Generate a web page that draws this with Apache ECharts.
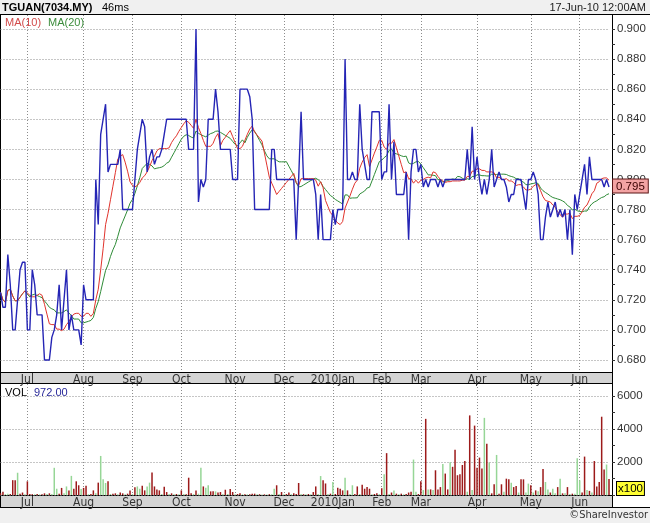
<!DOCTYPE html>
<html><head><meta charset="utf-8">
<script src="https://cdn.jsdelivr.net/npm/echarts@6/dist/echarts.min.js"></script>
<style>html,body{margin:0;padding:0;background:#fff}#c{width:650px;height:523px}</style>
</head><body><div id="c"></div>
<script>
// ---------- DATA ----------
const startDate = '2009-06-16';
const endDate = '2010-06-17';
const holidays = ['2009-08-31','2009-09-21','2009-09-22','2009-11-27','2009-12-18','2009-12-24','2009-12-25',
  '2010-01-01','2010-02-01','2010-02-15','2010-02-16','2010-02-26','2010-05-28'];
const monthNames = ['Jan','Feb','Mar','Apr','May','Jun','Jul','Aug','Sep','Oct','Nov','Dec'];

const closePrice = [
0.725,0.715,0.715,0.750,0.730,0.700,0.700,0.720,0.740,0.745,
0.745,0.700,0.700,0.740,0.730,0.710,0.710,0.710,0.680,0.680,
0.680,0.695,0.700,0.710,0.730,0.700,0.720,0.740,0.700,0.710,
0.700,0.700,0.700,0.690,0.730,0.720,0.720,0.720,0.720,0.800,
0.770,0.830,0.840,0.850,0.805,0.810,0.810,0.810,0.810,0.820,
0.780,0.780,0.780,0.780,0.780,0.800,0.820,0.830,0.840,0.835,
0.805,0.815,0.820,0.810,0.815,0.815,0.820,0.830,0.840,0.840,
0.840,0.840,0.840,0.840,0.840,0.840,0.840,0.820,0.820,0.820,
0.900,0.785,0.800,0.795,0.800,0.840,0.840,0.840,0.860,0.845,
0.820,0.820,0.820,0.820,0.820,0.800,0.800,0.800,0.860,0.860,
0.860,0.860,0.855,0.840,0.780,0.780,0.780,0.780,0.780,0.780,
0.780,0.820,0.820,0.800,0.800,0.800,0.800,0.800,0.800,0.800,
0.800,0.760,0.800,0.845,0.800,0.800,0.800,0.800,0.800,0.790,
0.760,0.790,0.760,0.760,0.760,0.760,0.780,0.770,0.780,0.780,
0.780,0.880,0.800,0.800,0.805,0.800,0.800,0.850,0.820,0.810,
0.800,0.800,0.845,0.845,0.845,0.845,0.800,0.805,0.805,0.850,
0.800,0.825,0.790,0.790,0.790,0.790,0.805,0.760,0.805,0.820,
0.820,0.805,0.810,0.795,0.800,0.795,0.800,0.800,0.800,0.795,
0.800,0.795,0.800,0.800,0.800,0.800,0.800,0.800,0.800,0.800,
0.800,0.820,0.800,0.835,0.800,0.815,0.800,0.790,0.800,0.790,
0.800,0.820,0.795,0.800,0.805,0.800,0.800,0.795,0.785,0.790,
0.790,0.800,0.800,0.800,0.790,0.780,0.800,0.800,0.805,0.800,
0.790,0.760,0.760,0.775,0.785,0.775,0.780,0.785,0.775,0.780,
0.775,0.780,0.760,0.780,0.750,0.790,0.780,0.790,0.800,0.810,
0.790,0.815,0.800,0.800,0.800,0.800,0.800,0.795,0.800,0.795
];

const volume = [
100,200,50,80,60,900,900,1350,80,150,
50,830,60,50,40,60,40,50,100,60,
100,60,1650,380,80,430,100,520,280,1160,
380,830,590,360,430,560,50,60,280,100,
750,2370,950,730,830,60,80,100,50,150,
100,50,80,280,60,470,520,380,560,280,
520,750,1360,520,330,280,60,500,180,60,
100,40,60,50,280,60,50,1050,100,60,
280,80,1650,520,440,590,220,220,220,150,
180,60,320,60,360,180,50,60,100,40,
50,40,50,80,80,40,50,30,40,30,
50,40,380,590,60,180,50,60,150,50,
100,60,730,60,50,40,60,50,180,520,
60,1150,900,700,60,80,790,60,440,380,
280,1040,280,60,590,60,520,60,620,380,
480,380,50,60,100,50,410,1260,2540,60,
150,280,80,50,80,40,60,150,200,2150,
200,60,830,300,4620,340,340,300,1500,340,
480,1880,1300,340,1980,1710,2740,1200,1260,1820,
2060,200,4830,300,4210,1650,2270,1610,4680,3110,
1980,100,650,2430,80,650,200,990,950,750,
480,550,150,950,950,150,690,590,150,280,
220,480,1570,790,340,150,380,100,480,990,
100,100,480,60,80,80,2230,890,150,2330,
300,250,150,2060,520,790,4750,1550,1850,972
];
// r = down-day bar, g = up-day bar
const volumeSide =
 'rrggrrrgrr' + 'grrrgrgrrg' + 'rgggrrggrg' + 'rrrgrrgrrg' + 'rgggrgrrgr' +
 'rgrrgrggrr' + 'ggrrrrgrrg' + 'rgrgrgrrrg' + 'rggrggrrgr' + 'rgrgrrgrrg' +
 'rgrrrgrgrg' + 'rggrgrgrrg' + 'rrrgrgrgrr' + 'ggrrgrgrrr' + 'rgrggrrgrr' +
 'rrgrrgrgrg' + 'rgrgrgrrrg' + 'grrgrgrgrr' + 'rgrrgrrrrr' + 'rgrgrrrrgr' +
 'grrgrrgrrg' + 'rrgrrggrgr' + 'grrggrggrg' + 'rgrgrgggrr' + 'grgrrrrrgr';

const priceTicks = [0.68,0.70,0.72,0.74,0.76,0.78,0.80,0.82,0.84,0.86,0.88,0.90];
const priceMinorTicks = [0.68,0.69,0.70,0.71,0.72,0.73,0.74,0.75,0.76,0.77,0.78,0.79,0.80,0.81,0.82,0.83,0.84,0.85,0.86,0.87,0.88,0.89,0.90];
const volumeTicks = [0,2000,4000,6000];
const volumeMinorTicks = [0,1000,2000,3000,4000,5000,6000];

// ---------- derived ----------
const dates = [];
(function(){
  const hol = new Set(holidays);
  let d = new Date(startDate + 'T00:00:00Z');
  const end = new Date(endDate + 'T00:00:00Z');
  while (d <= end) {
    const wd = d.getUTCDay();
    const s = d.toISOString().slice(0,10);
    if (wd !== 0 && wd !== 6 && !hol.has(s)) dates.push(s);
    d = new Date(d.getTime() + 86400000);
  }
})();
function movingAvg(arr, n) {
  return arr.map((v, i) => {
    const s = Math.max(0, i - n + 1);
    let sum = 0;
    for (let k = s; k <= i; k++) sum += arr[k];
    return +(sum / (i - s + 1)).toFixed(4);
  });
}
const ma10 = movingAvg(closePrice, 10);
const ma20 = movingAvg(closePrice, 20);
const lastClose = closePrice[closePrice.length - 1];
const lastVol = volume[volume.length - 1];
const isMonthStart = (idx) => idx > 0 && dates[idx] && dates[idx].slice(0,7) !== dates[idx-1].slice(0,7);
const monthLabel = (val) => { const m = +val.slice(5,7); return (m === 1 ? val.slice(0,4) : '') + monthNames[m-1]; };

const FONT = '"Liberation Sans", Arial, sans-serif';
const NARROW = '"Liberation Sans Narrow", "Arial Narrow", "DejaVu Sans Condensed", sans-serif';
const dotted = { color: '#8c8c8c', width: 1, type: [1, 2] };

function xAxisFor(grid) {
  return {
    type: 'category', gridIndex: grid, data: dates, boundaryGap: false,
    axisLine: { show: false }, axisTick: { show: false },
    axisLabel: { interval: isMonthStart, formatter: monthLabel, color: '#333', fontSize: 12,
                 fontFamily: NARROW, margin: 2 },
    splitLine: { show: true, interval: isMonthStart, lineStyle: dotted }
  };
}

const chart = echarts.init(document.getElementById('c'), null, { renderer: 'canvas' });
chart.setOption({
  animation: false,
  backgroundColor: '#ffffff',
  grid: [
    { left: 0.5, top: 15, width: 608.5, height: 357 },
    { left: 0.5, top: 384, width: 608.5, height: 111 }
  ],
  xAxis: [ xAxisFor(0), xAxisFor(1) ],
  yAxis: [
    { type: 'value', gridIndex: 0, position: 'right', offset: 3, min: 0.672, max: 0.9093,
      axisLine: { show: false },
      axisTick: { show: true, length: 3, customValues: priceTicks, lineStyle: { color: '#333' } },
      axisLabel: { customValues: priceTicks, formatter: v => v.toFixed(3), color: '#333',
                   fontSize: 11.5, fontFamily: FONT, margin: 5 },
      splitLine: { show: true, lineStyle: dotted } },
    { type: 'value', gridIndex: 0, position: 'right', offset: 3, min: 0.672, max: 0.9093,
      axisLine: { show: false },
      axisTick: { show: true, length: 3, customValues: priceMinorTicks, lineStyle: { color: '#333' } },
      axisLabel: { show: false }, splitLine: { show: false } },
    { type: 'value', gridIndex: 1, position: 'right', offset: 3, min: 0, max: 6735,
      axisLine: { show: false },
      axisTick: { show: true, length: 3, customValues: volumeTicks, lineStyle: { color: '#333' } },
      axisLabel: { customValues: volumeTicks, color: '#333', fontSize: 11.5, fontFamily: FONT, margin: 5,
                   verticalAlignMinLabel: 'bottom',
                   formatter: v => v === 0 ? '{x|x100}' : String(v),
                   rich: { x: { backgroundColor: '#ffff33', borderColor: '#000', borderWidth: 1,
                                padding: [1, 1, 0, 1], fontSize: 11.5, fontFamily: FONT, color: '#000' } } },
      splitLine: { show: true, lineStyle: dotted } },
    { type: 'value', gridIndex: 1, position: 'right', offset: 3, min: 0, max: 6735,
      axisLine: { show: false },
      axisTick: { show: true, length: 3, customValues: volumeMinorTicks, lineStyle: { color: '#333' } },
      axisLabel: { show: false }, splitLine: { show: false } }
  ],
  series: [
    { name: 'MA(20)', type: 'line', xAxisIndex: 0, yAxisIndex: 0, data: ma20, showSymbol: false,
      symbol: 'none', lineStyle: { color: '#2e8b37', width: 1 }, z: 3 },
    { name: 'MA(10)', type: 'line', xAxisIndex: 0, yAxisIndex: 0, data: ma10, showSymbol: false,
      symbol: 'none', lineStyle: { color: '#e0332c', width: 1 }, z: 4 },
    { name: 'Close', type: 'line', xAxisIndex: 0, yAxisIndex: 0, data: closePrice, showSymbol: false,
      symbol: 'none', lineStyle: { color: '#2525b5', width: 1.4 }, z: 5,
      markLine: { silent: true, symbol: 'none', animation: false,
        lineStyle: { color: 'rgba(0,0,0,0)', width: 1, type: 'solid' },
        emphasis: { disabled: true },
        data: [{ yAxis: lastClose }],
        label: { show: true, position: 'end', distance: 4, verticalAlign: 'top', formatter: () => lastClose.toFixed(3),
                 backgroundColor: '#f3a3a3', borderColor: '#5a1515', borderWidth: 1, opacity: 1,
                 padding: [1, 3, 0, 3], color: '#3a0000', fontSize: 11.5, fontFamily: FONT } } },
    { name: 'VOL', type: 'bar', xAxisIndex: 1, yAxisIndex: 2, barWidth: 1.5,
      data: volume.map((v, i) => ({ value: v,
        itemStyle: { color: volumeSide[i] === 'g' ? '#96d696' : '#9c1a1a' } })) }
  ],
  graphic: [
    { type: 'rect', z: -1, silent: true, shape: { x: 0, y: 0, width: 650, height: 14 }, style: { fill: '#f0f0f0' } },
    { type: 'rect', z: -1, silent: true, shape: { x: 0, y: 508, width: 650, height: 15 }, style: { fill: '#f0f0f0' } },
    { type: 'rect', z: -1, silent: true, shape: { x: 0, y: 372, width: 612, height: 12 }, style: { fill: '#d4d4d4' } },
    { type: 'rect', z: -1, silent: true, shape: { x: 0, y: 495, width: 612, height: 12 }, style: { fill: '#d4d4d4' } },
    { type: 'line', silent: true, shape: { x1: 0, y1: 14.5, x2: 650, y2: 14.5 }, style: { stroke: '#000', lineWidth: 1 } },
    { type: 'line', silent: true, shape: { x1: 0, y1: 372.5, x2: 612, y2: 372.5 }, style: { stroke: '#000', lineWidth: 1 } },
    { type: 'line', silent: true, shape: { x1: 0, y1: 383.5, x2: 612, y2: 383.5 }, style: { stroke: '#000', lineWidth: 1 } },
    { type: 'line', silent: true, shape: { x1: 0, y1: 495.5, x2: 612, y2: 495.5 }, style: { stroke: '#000', lineWidth: 1 } },
    { type: 'line', silent: true, shape: { x1: 0, y1: 507.5, x2: 650, y2: 507.5 }, style: { stroke: '#000', lineWidth: 1 } },
    { type: 'line', silent: true, shape: { x1: 0.5, y1: 14, x2: 0.5, y2: 508 }, style: { stroke: '#000', lineWidth: 1 } },
    { type: 'line', silent: true, shape: { x1: 612.5, y1: 14, x2: 612.5, y2: 508 }, style: { stroke: '#000', lineWidth: 1 } },
    { type: 'text', silent: true, x: 2, y: 7.5, z: 10,
      style: { text: 'TGUAN(7034.MY)', font: 'bold 11px ' + FONT, fill: '#000', textVerticalAlign: 'middle', verticalAlign: 'middle' } },
    { type: 'text', silent: true, x: 102, y: 7.5, z: 10,
      style: { text: '46ms', font: '11px ' + FONT, fill: '#000', textVerticalAlign: 'middle', verticalAlign: 'middle' } },
    { type: 'text', silent: true, x: 646, y: 7.5, z: 10,
      style: { text: '17-Jun-10 12:00AM', font: '11px ' + FONT, fill: '#222', textAlign: 'right', align: 'right',
               textVerticalAlign: 'middle', verticalAlign: 'middle' } },
    { type: 'text', silent: true, x: 5, y: 22.5, z: 10,
      style: { text: 'MA(10)', font: '11px ' + FONT, fill: '#d24a4a', textVerticalAlign: 'middle', verticalAlign: 'middle' } },
    { type: 'text', silent: true, x: 48, y: 22.5, z: 10,
      style: { text: 'MA(20)', font: '11px ' + FONT, fill: '#3c8c3c', textVerticalAlign: 'middle', verticalAlign: 'middle' } },
    { type: 'text', silent: true, x: 5, y: 392.5, z: 10,
      style: { text: 'VOL', font: '11px ' + FONT, fill: '#000', textVerticalAlign: 'middle', verticalAlign: 'middle' } },
    { type: 'text', silent: true, x: 34, y: 392.5, z: 10,
      style: { text: lastVol.toFixed(2), font: '11px ' + FONT, fill: '#2a2a9a', textVerticalAlign: 'middle', verticalAlign: 'middle' } },
    { type: 'text', silent: true, x: 648, y: 515.5, z: 10,
      style: { text: '\u00A9ShareInvestor', font: '11px ' + NARROW, fill: '#333', textAlign: 'right', align: 'right',
               textVerticalAlign: 'middle', verticalAlign: 'middle' } }
  ]
});
</script>
</body></html>
